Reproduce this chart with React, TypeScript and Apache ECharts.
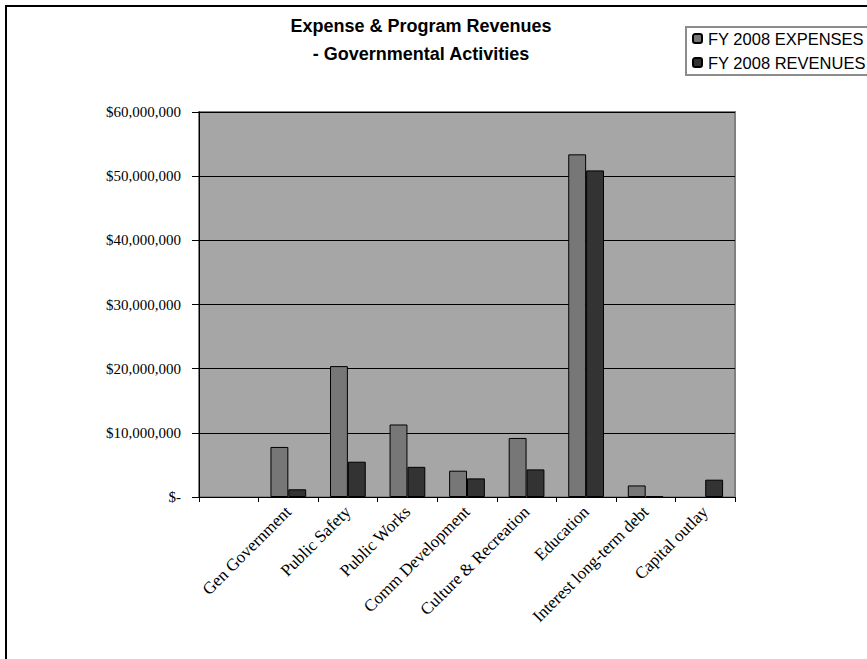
import React, { useEffect, useRef } from "react";
import * as echarts from "echarts";

const categories = [
  "",
  "Gen Government",
  "Public Safety",
  "Public Works",
  "Comm Development",
  "Culture & Recreation",
  "Education",
  "Interest long-term debt",
  "Capital outlay",
];
const expenses = [null, 7800000, 20400000, 11300000, 4100000, 9200000, 53400000, 1800000, null];
const revenues = [null, 1200000, 5500000, 4700000, 2900000, 4300000, 50900000, 150000, 2700000];
const seriesNames = ["FY 2008 EXPENSES", "FY 2008 REVENUES"];
const titleLines = ["Expense & Program Revenues", "- Governmental Activities"];

export default function App() {
  const ref = useRef<HTMLDivElement>(null);
  useEffect(() => {
    if (!ref.current) return;
    const chart = echarts.init(ref.current, undefined, { renderer: "svg" });
    chart.setOption({
      animation: false,
      backgroundColor: "#ffffff",
      graphic: [
        {
          type: "rect",
          z: 0,
          shape: { x: 6, y: 6, width: 1000, height: 1000 },
          style: { fill: "none", stroke: "#000", lineWidth: 2 },
        },
        {
          type: "text",
          x: 421,
          y: 12,
          style: {
            text: titleLines.join("\n"),
            align: "center",
            verticalAlign: "top",
            fontFamily: "Liberation Sans",
            fontWeight: "bold",
            fontSize: 18,
            lineHeight: 28,
            fill: "#000",
          },
        },
      ],
      legend: {
        orient: "vertical",
        left: 686,
        top: 27,
        padding: [3, 60, 4, 6],
        itemGap: 7,
        itemWidth: 9,
        itemHeight: 9,
        borderColor: "#8c8c8c",
        borderWidth: 2,
        backgroundColor: "#fff",
        data: seriesNames,
        textStyle: { fontFamily: "Liberation Sans", fontSize: 16.5, color: "#000", padding: [0, 0, 0, 1] },
      },
      grid: {
        left: 199,
        top: 112,
        right: 132,
        bottom: 162,
        show: true,
        backgroundColor: "#a6a6a6",
        borderColor: "#808080",
        borderWidth: 2,
      },
      xAxis: {
        type: "category",
        data: categories,
        axisLine: { show: true, lineStyle: { color: "#000", width: 1 } },
        axisTick: { show: true, length: 5, lineStyle: { color: "#000" } },
        axisLabel: {
          interval: 0,
          rotate: 45,
          margin: 12,
          fontFamily: "Liberation Serif",
          fontSize: 17,
          color: "#000",
        },
      },
      yAxis: {
        type: "value",
        min: 0,
        max: 60000000,
        interval: 10000000,
        axisLine: { show: true, lineStyle: { color: "#000", width: 1 } },
        axisTick: { show: true, length: 7, lineStyle: { color: "#000" } },
        splitLine: { show: true, lineStyle: { color: "#000", width: 1 } },
        axisLabel: {
          margin: 18,
          fontFamily: "Liberation Serif",
          fontSize: 15,
          color: "#000",
          formatter: (v: number) => (v === 0 ? "$-" : "$" + v.toLocaleString("en-US")),
        },
      },
      series: [
        {
          name: seriesNames[0],
          type: "bar",
          data: expenses,
          barGap: "0%",
          barCategoryGap: "40%",
          itemStyle: { color: "#777777", borderColor: "#000", borderWidth: 1 },
        },
        {
          name: seriesNames[1],
          type: "bar",
          data: revenues,
          barGap: "0%",
          barCategoryGap: "40%",
          itemStyle: { color: "#333333", borderColor: "#000", borderWidth: 1 },
        },
      ],
    });
    return () => chart.dispose();
  }, []);
  return (
    <div
      ref={ref}
      style={{ position: "absolute", left: 0, top: 0, width: 867, height: 659 }}
    />
  );
}
